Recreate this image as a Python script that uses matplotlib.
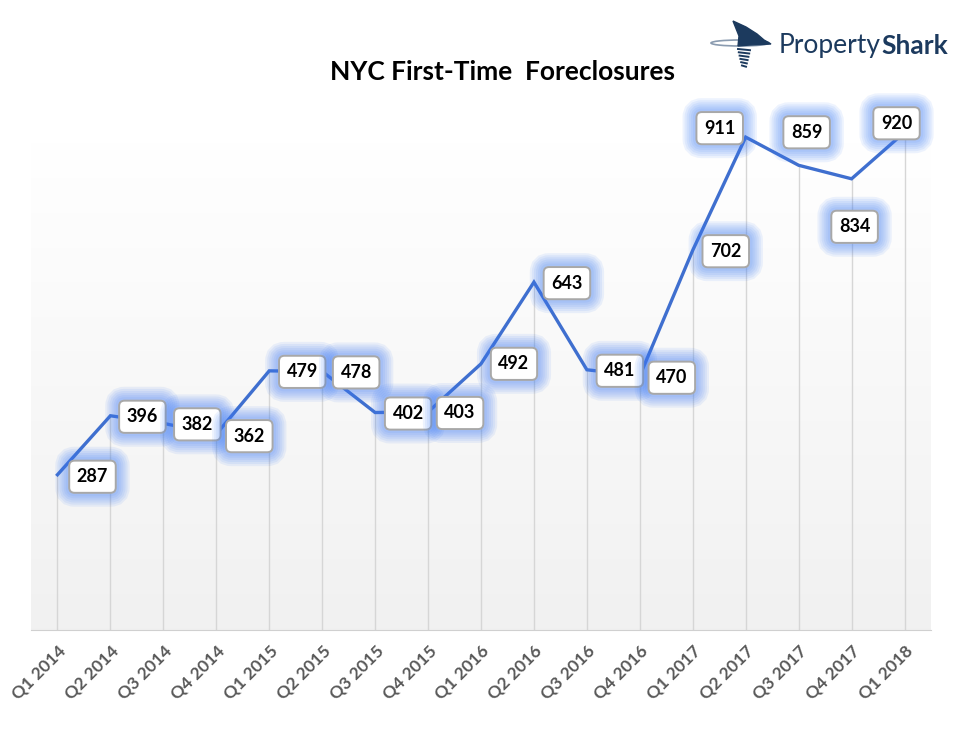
import matplotlib
matplotlib.use("Agg")
import matplotlib.pyplot as plt
import matplotlib.patheffects as pe
from matplotlib.patches import Polygon, Ellipse
import numpy as np

quarters = ["Q1 2014", "Q2 2014", "Q3 2014", "Q4 2014",
            "Q1 2015", "Q2 2015", "Q3 2015", "Q4 2015",
            "Q1 2016", "Q2 2016", "Q3 2016", "Q4 2016",
            "Q1 2017", "Q2 2017", "Q3 2017", "Q4 2017", "Q1 2018"]
foreclosures = [287, 396, 382, 362, 479, 478, 402, 403, 492,
                643, 481, 470, 702, 911, 859, 834, 920]

# label offsets in pixels (dx, dy) from each point
label_dx = [35, 32, 34, 33, 33, 34, 33, 32, 33, 33, 33, 32, 33, -26, 8, 3, -8]
label_dy = [-2, -1, -1, -2, -1, -1, -1, -1, 0, -1, -1, -2, -1, 9, 33, -48, 9]

line_col = "#3f6fcf"
glow_col = "#3d7cf5"

fig = plt.figure(figsize=(9.79, 7.41), dpi=100)
ax = fig.add_axes([31 / 979, 1 - 630 / 741, 900 / 979, 541 / 741])

x = np.arange(len(quarters))
ax.set_xlim(-0.5, len(quarters) - 0.5)
ax.set_ylim(0, 1000)

# gradient background, white at top to light grey at bottom
grad = np.linspace(0, 1, 256).reshape(-1, 1)
grad = np.clip((grad - 0.1) / 0.9, 0, 1)
shade = 1 - 0.055 * grad
img = np.dstack([shade, shade, shade])
ax.imshow(img, extent=[-0.5, len(quarters) - 0.5, 0, 1000], aspect="auto",
          origin="upper", zorder=0)

ax.vlines(x, 0, foreclosures, color="#d6d6d6", lw=1, zorder=1)
ax.plot(x, foreclosures, color=line_col, lw=2.4, zorder=3,
        solid_joinstyle="miter")

for i, v in enumerate(foreclosures):
    t = ax.annotate(str(v), (x[i], v), xytext=(label_dx[i], label_dy[i]),
                    textcoords="offset pixels", ha="center", va="center",
                    fontsize=13, fontweight="bold", family="Lato",
                    color="black", zorder=5,
                    bbox=dict(boxstyle="round,pad=0.42,rounding_size=0.3",
                              fc="white", ec="#a8a8a8", lw=1.4))
    t.get_bbox_patch().set_path_effects([
        pe.Stroke(linewidth=w, foreground=glow_col, alpha=0.09)
        for w in (20, 17, 14, 11, 8, 5)] + [pe.Normal()])

ax.set_xticks(x)
ax.set_xticklabels(quarters, rotation=45, ha="right", rotation_mode="anchor",
                   fontsize=12.5, fontweight="bold", color="#595959", family="Lato")
ax.tick_params(axis="x", length=0, pad=9)
ax.set_yticks([])
for s in ["top", "left", "right"]:
    ax.spines[s].set_visible(False)
ax.spines["bottom"].set_color("#d0d0d0")

fig.text(503 / 979, 1 - 72 / 741, "NYC First-Time  Foreclosures", ha="center",
         va="center", fontsize=19, fontweight="bold", family="Lato")

# PropertyShark logo
navy = "#1c3a5e"
lax = fig.add_axes([705 / 979, 1 - 78 / 741, 75 / 979, 63 / 741])
lax.set_xlim(705, 780)
lax.set_ylim(78, 15)
lax.axis("off")
lax.add_patch(Ellipse((740, 43), 58, 6, fill=False, ec="#8a9bb0", lw=1.2))
lax.add_patch(Polygon([(733, 21), (746, 27), (757, 34), (764, 40), (771, 44),
                       (750, 45), (738, 46), (739, 36)], closed=True,
                      fc=navy, ec=navy))
for k in range(6):
    yy = 49 + k * 3.3
    w = 12 - k * 1.6
    lax.plot([744 - w / 2, 744 + w / 2], [yy, yy + 1.2], color=navy, lw=1.4)

t1 = fig.text(779 / 979, 1 - 46 / 741, "Property", ha="left", va="center",
              fontsize=19, color=navy, family="Lato")
fig.canvas.draw()
bb = t1.get_window_extent()
fig.text(bb.x1 / 979, 1 - 46 / 741, "Shark", ha="left", va="center",
         fontsize=19, color=navy, family="Lato", fontweight="bold")

fig.savefig("out.png", dpi=100, facecolor="white")
